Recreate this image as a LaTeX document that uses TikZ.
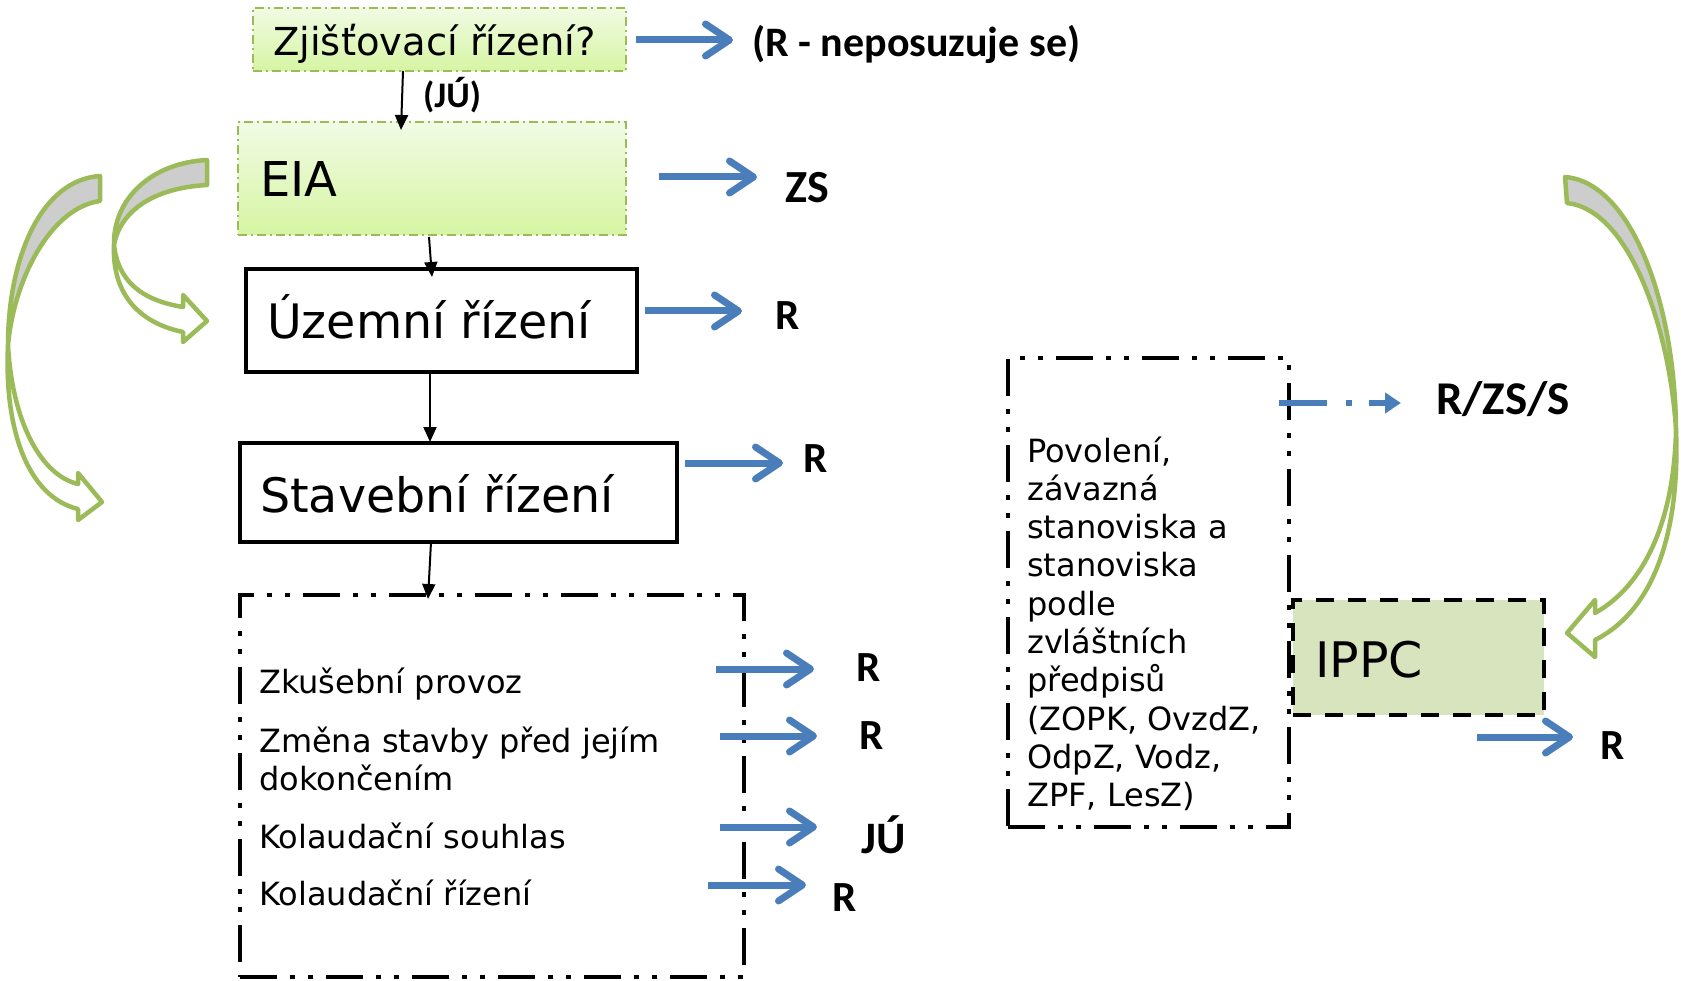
\documentclass[tikz,border=0pt]{standalone}
\usepackage{fontspec}
\setmainfont{DejaVu Sans}
\newfontfamily\labfont{Carlito}
\usetikzlibrary{arrows.meta}
\definecolor{myblue}{RGB}{74,126,187}
\definecolor{mygreen}{RGB}{155,187,89}
\definecolor{ippcfill}{RGB}{215,228,189}
\definecolor{crescent}{RGB}{205,205,205}
\definecolor{gtop}{RGB}{241,251,228}
\definecolor{gbot}{RGB}{214,245,163}
\begin{document}
\begin{tikzpicture}[x=1pt,y=-1pt,
  greenbox/.style={draw=mygreen, line width=2pt, dash pattern=on 9pt off 4pt on 2pt off 4pt, top color=gtop, bottom color=gbot, anchor=north west, inner sep=0, outer sep=0},
  blackbox/.style={draw=black, line width=4pt, fill=white, anchor=north west, inner sep=0, outer sep=0},
  ddbox/.style={draw=black, line width=4.5pt, dash pattern=on 37pt off 13pt on 5pt off 13pt on 5pt off 13pt, anchor=north west, inner sep=0, outer sep=0},
  ippcbox/.style={draw=black, line width=4.5pt, dash pattern=on 18pt off 14pt, fill=ippcfill, anchor=north west, inner sep=0, outer sep=0},
  txt/.style={anchor=base west, inner sep=0},
  lab/.style={anchor=base west, inner sep=0},
  bluearr/.style={draw=myblue, line width=7pt, -{Straight Barb[length=24pt,width=32pt,round]}},
  bluedash/.style={draw=myblue, line width=6pt, dash pattern=on 48pt off 19pt on 6pt off 17pt, -{Triangle[length=16pt,width=20pt]}},
  blkarr/.style={draw=black, line width=2pt, -{Triangle[length=15pt,width=13pt]}},
  curvearr/.style={draw=mygreen, line width=4.5pt, line join=round},
]
\useasboundingbox[fill=white] (0,0) rectangle (1681,981);

% boxes
\node[greenbox, minimum width=373pt, minimum height=63pt] (zj) at (253,8) {};
\node[greenbox, minimum width=388pt, minimum height=113pt] (eia) at (238,122) {};
\node[blackbox, minimum width=391pt, minimum height=103pt] (uz) at (246,269) {};
\node[blackbox, minimum width=437pt, minimum height=99pt] (st) at (240,443) {};
\node[ddbox, minimum width=504pt, minimum height=382pt] (kol) at (240,595) {};
\node[ippcbox, minimum width=251pt, minimum height=115pt] (ippc) at (1293,600) {};
\node[ddbox, minimum width=281pt, minimum height=469pt] (pov) at (1008,358) {};

% box texts
\node[txt, font=\fontsize{38.5}{46}\selectfont] (zjt) at (273,56) {Zjišťovací řízení?};
\node[txt, font=\fontsize{48}{56}\selectfont] (eiat) at (260,197) {EIA};
\node[txt, font=\fontsize{47.5}{56}\selectfont] (uzt) at (267,339) {Územní řízení};
\node[txt, font=\fontsize{47.5}{56}\selectfont] (stt) at (260,512) {Stavební řízení};
\node[txt, font=\fontsize{49}{56}\selectfont] (ippct) at (1315,677) {IPPC};

\node[txt, font=\fontsize{32}{38}\selectfont] (l1) at (259,693) {Zkušební provoz};
\node[txt, font=\fontsize{32}{38}\selectfont] (l2) at (259,752) {\parbox[t]{480pt}{Změna stavby před jejím\\dokončením}};
\node[txt, font=\fontsize{32}{38}\selectfont] (l3) at (259,848) {Kolaudační souhlas};
\node[txt, font=\fontsize{32}{38}\selectfont] (l4) at (259,905) {Kolaudační řízení};

\node[txt, font=\fontsize{32}{38.3}\selectfont] (povt) at (1027,462) {\parbox[t]{258pt}{\raggedright Povolení,\\závazná\\stanoviska a\\stanoviska\\podle\\zvláštních\\předpisů\\(ZOPK, OvzdZ,\\OdpZ, Vodz,\\ZPF, LesZ)}};

% bold labels
\node[lab, font=\labfont\bfseries\fontsize{42}{50}\selectfont] (rn) at (752,57) {(R - neposuzuje se)};
\node[lab, font=\labfont\bfseries\fontsize{36}{40}\selectfont] (ju0) at (423,108) {(JÚ)};
\node[lab, font=\labfont\bfseries\fontsize{46}{50}\selectfont] (zs) at (785,203) {ZS};
\node[lab, font=\labfont\bfseries\fontsize{43}{50}\selectfont] (r1) at (775,330) {R};
\node[lab, font=\labfont\bfseries\fontsize{43}{50}\selectfont] (r2) at (803,472) {R};
\node[lab, font=\labfont\bfseries\fontsize{43}{50}\selectfont] (r3) at (856,681) {R};
\node[lab, font=\labfont\bfseries\fontsize{43}{50}\selectfont] (r4) at (859,749) {R};
\node[lab, font=\labfont\bfseries\fontsize{45}{50}\selectfont] (ju1) at (861,853) {JÚ};
\node[lab, font=\labfont\bfseries\fontsize{43}{50}\selectfont] (r5) at (832,911) {R};
\node[lab, font=\labfont\bfseries\fontsize{47}{50}\selectfont] (rzs) at (1436,414) {R/ZS/S};
\node[lab, font=\labfont\bfseries\fontsize{43}{50}\selectfont] (r6) at (1600,759) {R};

% coordinates for connector ends
\coordinate (k1s) at (403,71);  \coordinate (k1e) at (401,130);
\coordinate (k2s) at (429,237); \coordinate (k2e) at (432,277);
\coordinate (k3s) at (430,372); \coordinate (k3e) at (430,442);
\coordinate (k4s) at (431,542); \coordinate (k4e) at (428,599);

\coordinate (b1s) at (636,40);   \coordinate (b1e) at (733,40);
\coordinate (b2s) at (659,177);  \coordinate (b2e) at (757,177);
\coordinate (b3s) at (645,311);  \coordinate (b3e) at (742,311);
\coordinate (b4s) at (685,463);  \coordinate (b4e) at (783,463);
\coordinate (b5s) at (716,669);  \coordinate (b5e) at (814,669);
\coordinate (b6s) at (720,736);  \coordinate (b6e) at (817,736);
\coordinate (b7s) at (720,827);  \coordinate (b7e) at (817,827);
\coordinate (b8s) at (708,885);  \coordinate (b8e) at (806,885);
\coordinate (b9s) at (1477,737); \coordinate (b9e) at (1573,737);
\coordinate (d1s) at (1279,403); \coordinate (d1e) at (1401,403);

% black arrows
\draw[blkarr] (k1s) -- (k1e);
\draw[blkarr] (k2s) -- (k2e);
\draw[blkarr] (k3s) -- (k3e);
\draw[blkarr] (k4s) -- (k4e);

% blue arrows
\foreach \i in {1,...,9} { \draw[bluearr] (b\i s) -- (b\i e); }
\draw[bluedash] (d1s) -- (d1e);

% curved arrows (left outer)
\filldraw[curvearr, fill=crescent] (100,176) .. controls (40,180) and (8,260) .. (8,345) .. controls (14,280) and (50,208) .. (100,201) -- cycle;
\filldraw[curvearr, fill=white] (8,345) .. controls (12,420) and (40,475) .. (78,484) -- (78,473) -- (102,502) -- (78,520) -- (78,509) .. controls (28,497) and (4,430) .. (8,345) -- cycle;
% left inner
\filldraw[curvearr, fill=crescent] (207,160) .. controls (150,163) and (113,200) .. (114,245) .. controls (120,212) and (152,188) .. (207,185) -- cycle;
\filldraw[curvearr, fill=white] (114,245) .. controls (118,280) and (140,300) .. (183,307) -- (183,295) -- (207,321) -- (183,342) -- (183,332) .. controls (135,322) and (112,290) .. (114,245) -- cycle;
% right
\filldraw[curvearr, fill=crescent] (1565,177) .. controls (1630,182) and (1675,300) .. (1676,430) .. controls (1670,330) and (1630,210) .. (1567,203) -- cycle;
\filldraw[curvearr, fill=white] (1676,430) .. controls (1674,520) and (1645,585) .. (1595,613) -- (1595,600) -- (1567,633) -- (1595,657) -- (1595,640) .. controls (1655,610) and (1680,530) .. (1676,430) -- cycle;
\end{tikzpicture}
\end{document}
